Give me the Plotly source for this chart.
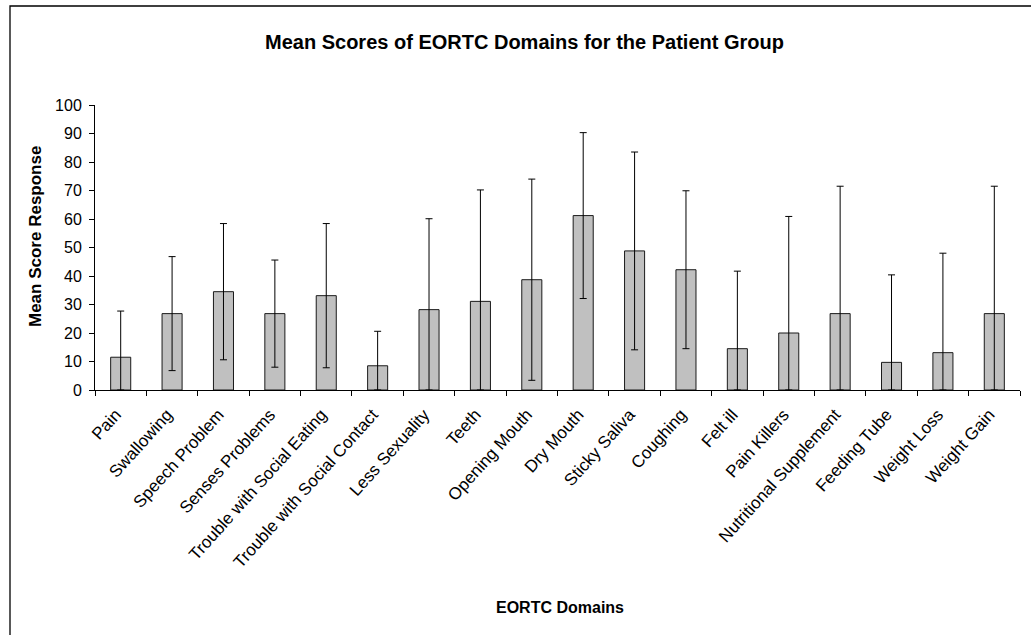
import plotly.graph_objects as go

categories = ["Pain", "Swallowing", "Speech Problem", "Senses Problems",
              "Trouble with Social Eating", "Trouble with Social Contact",
              "Less Sexuality", "Teeth", "Opening Mouth", "Dry Mouth",
              "Sticky Saliva", "Coughing", "Felt ill", "Pain Killers",
              "Nutritional Supplement", "Feeding Tube", "Weight Loss", "Weight Gain"]
mean_scores = [11.5, 26.8, 34.5, 26.8, 33.1, 8.5, 28.2, 31.1, 38.7, 61.2,
               48.8, 42.2, 14.5, 20.0, 26.8, 9.7, 13.1, 26.8]
std_dev = [16.2, 20.0, 23.9, 18.8, 25.3, 12.1, 31.9, 39.1, 35.3, 29.1,
           34.7, 27.7, 27.2, 40.9, 44.7, 30.7, 34.9, 44.7]
y_ticks = [0, 10, 20, 30, 40, 50, 60, 70, 80, 90, 100]

FONT = "Arial, Liberation Sans, sans-serif"
W, H = 1031, 635
ML, MR, MT, MB = 95, 11, 105, 245
PW = W - ML - MR
PH = H - MT - MB

def px(x):
    return (x - ML) / PW

def py(y):
    return (H - MB - y) / PH

err_minus = [min(s, m) for s, m in zip(std_dev, mean_scores)]

fig = go.Figure(go.Bar(
    x=categories, y=mean_scores,
    marker=dict(color="#C0C0C0", line=dict(color="#1a1a1a", width=1)),
    error_y=dict(type="data", array=std_dev, arrayminus=err_minus,
                 symmetric=False, color="#000000", thickness=1, width=3.5),
    showlegend=False,
))

fig.update_layout(
    width=W, height=H,
    margin=dict(l=ML, r=MR, t=MT, b=MB, autoexpand=False),
    paper_bgcolor="white", plot_bgcolor="white",
    bargap=0.61,
    font=dict(family=FONT, color="black"),
    xaxis=dict(
        showline=True, linecolor="black", linewidth=1,
        ticks="outside", ticklen=5, tickcolor="black", tickson="boundaries",
        tickangle=-48, tickfont=dict(size=17, family=FONT, color="black"),
        showgrid=False, zeroline=False, ticklabelstandoff=7, ticklabelshift=-5,
    ),
    yaxis=dict(
        range=[0, 100], tickvals=y_ticks, showline=True, linecolor="black", linewidth=1,
        ticks="outside", ticklen=5, tickcolor="black",
        tickfont=dict(size=16, family=FONT, color="black"),
        showgrid=False, zeroline=False, ticklabelstandoff=4,
    ),
    shapes=[dict(type="rect", xref="paper", yref="paper",
                 x0=px(10), x1=px(1045), y0=py(645), y1=py(6),
                 line=dict(color="black", width=1.3), fillcolor="rgba(0,0,0,0)",
                 layer="below")],
    annotations=[
        dict(text="<b>Mean Scores of EORTC Domains for the Patient Group</b>",
             xref="paper", yref="paper", x=px(524), y=py(42),
             xanchor="center", yanchor="middle", showarrow=False,
             font=dict(size=20, family=FONT, color="black")),
        dict(text="<b>Mean Score Response</b>",
             xref="paper", yref="paper", x=px(35), y=py(237),
             xanchor="center", yanchor="middle", showarrow=False, textangle=-90,
             font=dict(size=17, family=FONT, color="black")),
        dict(text="<b>EORTC Domains</b>",
             xref="paper", yref="paper", x=px(560), y=py(607),
             xanchor="center", yanchor="middle", showarrow=False,
             font=dict(size=16, family=FONT, color="black")),
    ],
)

fig.write_html("out.html", config={"displayModeBar": False},
               post_script="document.body.style.margin='0';document.body.style.overflow='hidden';")
